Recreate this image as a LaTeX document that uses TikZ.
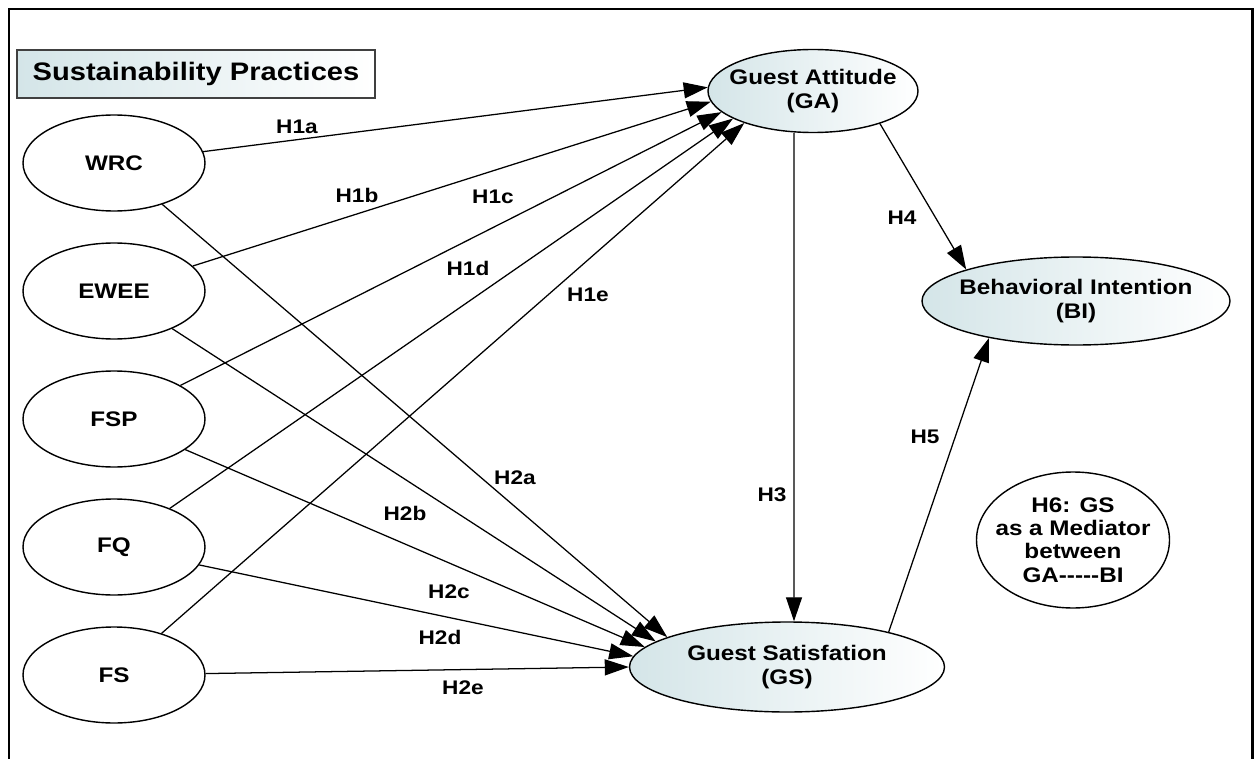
\documentclass[tikz,border=0pt]{standalone}
\usepackage{fontspec}
\setmainfont{Liberation Sans}[FakeStretch=1.15]
\usetikzlibrary{shapes.geometric, arrows.meta, positioning}
\definecolor{IceBlue}{RGB}{212,229,232}

\begin{document}
\begin{tikzpicture}[scale=1,
    lat/.style={ellipse,draw,line width=1pt,left color=IceBlue,right color=white,inner xsep=-4mm,inner ysep=0pt,align=center,font=\fontsize{15}{16.5}\selectfont\bfseries},
    obs/.style={ellipse,draw,line width=1pt,fill=white,inner xsep=-4mm,inner ysep=0pt,align=center,font=\fontsize{15}{16.5}\selectfont\bfseries},
    hyp/.style={inner sep=0mm,font=\fontsize{14}{16}\selectfont\bfseries},
    arr/.style={-{Triangle[length=6mm,width=4mm]},line width=0.9pt}]
  \useasboundingbox (0,0) rectangle (31.375,18.95);
  \draw[line width=2pt] (0.225,-0.5) -- (0.225,18.725) -- (31.32,18.725) -- (31.32,-0.5);

  \node[draw=black!75,line width=1pt,left color=IceBlue,right color=white,minimum width=8.95cm,minimum height=1.2cm,font=\fontsize{18}{20}\selectfont\bfseries] (title) at (4.9,17.1) {Sustainability Practices};

  \foreach \name [count=\i] in {WRC,EWEE,FSP,FQ,FS}
    \node[obs,minimum width=4.55cm,minimum height=2.4cm] (\name) at (2.85,{18.075-3.2*\i}) {\name};

  \node[lat,minimum width=5.25cm,minimum height=2.075cm] (GA) at (20.325,16.675) {Guest Attitude\\(GA)};
  \node[lat,minimum width=7.7cm,minimum height=2.2cm] (BI) at (26.9,11.425) {Behavioral Intention\\(BI)};
  \node[lat,minimum width=7.875cm,minimum height=2.25cm] (GS) at (19.675,2.275) {Guest Satisfation\\(GS)};
  \node[obs,minimum width=4.825cm,minimum height=3.4cm] (H6) at (26.825,5.45) {H6: GS\\as a Mediator\\between\\GA{-}{-}{-}{-}{-}BI};

  \foreach \name/\a in {WRC/178,EWEE/186,FSP/193,FQ/199,FS/205}
    \draw[arr] (\name) -- (GA.\a);
  \foreach \name/\a in {WRC/166,EWEE/169,FSP/172,FQ/176,FS/180}
    \draw[arr] (\name) -- (GS.\a);
  \draw[arr] ([xshift=-4.75mm]GA.south) -- ([xshift=1.75mm]GS.north);
  \draw[arr] (GA.-26) -- (BI.164);
  \draw[arr] (GS.19) -- (BI.-157);

  \node[hyp] (h1a) at (7.425,15.775) {H1a};
  \node[hyp] (h1b) at (8.925,14.075) {H1b};
  \node[hyp] (h1c) at (12.325,14.025) {H1c};
  \node[hyp] (h1d) at (11.7,12.25) {H1d};
  \node[hyp] (h1e) at (14.7,11.575) {H1e};
  \node[hyp] (h2a) at (12.875,7.0) {H2a};
  \node[hyp] (h2b) at (10.125,6.125) {H2b};
  \node[hyp] (h2c) at (11.225,4.15) {H2c};
  \node[hyp] (h2d) at (11.0,3.025) {H2d};
  \node[hyp] (h2e) at (11.575,1.75) {H2e};
  \node[hyp] (h3) at (19.3,6.575) {H3};
  \node[hyp] (h4) at (22.55,13.5) {H4};
  \node[hyp] (h5) at (23.125,8.025) {H5};
\end{tikzpicture}
\end{document}
